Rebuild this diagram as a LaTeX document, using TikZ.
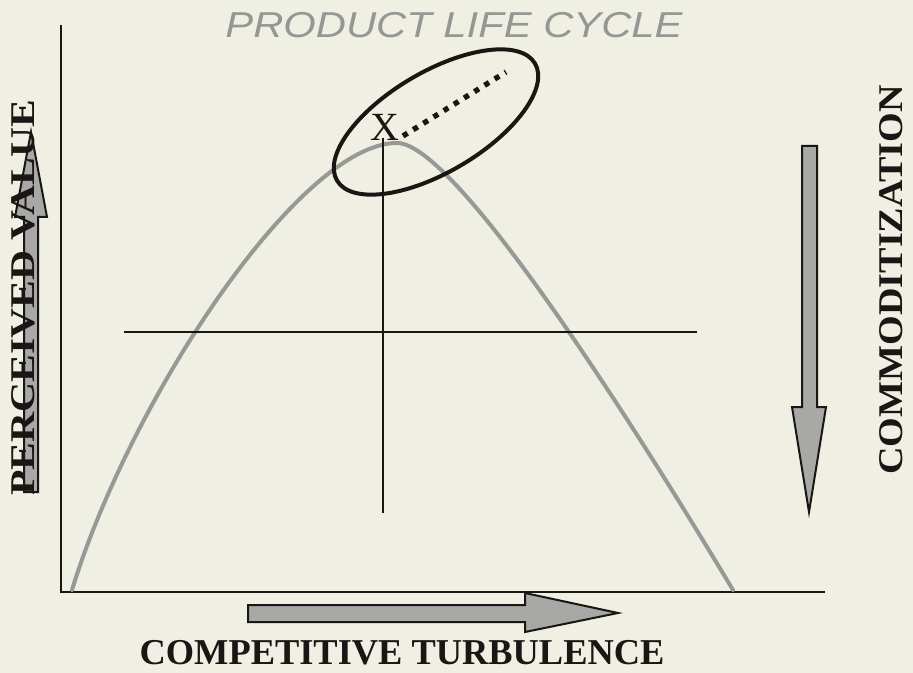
\documentclass[tikz,border=0pt]{standalone}
\usepackage{fontspec}
\setmainfont{Liberation Serif}
\newfontfamily\titlefont{Liberation Sans}
\usetikzlibrary{shapes.geometric}
\definecolor{paper}{RGB}{240,239,228}
\definecolor{curvegray}{RGB}{152,152,150}
\definecolor{arrowfill}{RGB}{168,168,166}
\definecolor{titlegray}{RGB}{150,150,148}
\definecolor{ink}{RGB}{25,22,20}
\tikzset{
  axisline/.style={draw=ink, line width=1.7pt},
  crossline/.style={draw=ink, line width=2.1pt},
  fatarrow/.style={draw=ink, line width=1.5pt, fill=arrowfill, line join=miter},
  axislabel/.style={font=\fontsize{26}{26}\selectfont\bfseries, text=ink, inner sep=0pt},
}
\begin{document}
\begin{tikzpicture}[x=0.75pt,y=-0.75pt]
\fill[paper] (0,0) rectangle (913,673);
\useasboundingbox (0,0) rectangle (913,673);

% coordinates
\coordinate (origin) at (61,592);
\coordinate (ytop) at (61,25);
\coordinate (xend) at (825,592);
\coordinate (hl) at (124,332);
\coordinate (hr) at (697,332);
\coordinate (vt) at (383,138);
\coordinate (vb) at (383,513);
\coordinate (cstart) at (72,590);
\coordinate (cpeak) at (397,143);
\coordinate (cend) at (733,590);

% axes
\draw[axisline] (ytop) -- (origin) -- (xend);

% bell curve
\draw[curvegray, line width=3pt, line cap=round]
  (cstart) .. controls (130,400) and (300,143) .. (cpeak)
  .. controls (462,143) and (673,490) .. (cend);

% cross lines
\draw[crossline] (hl) -- (hr);
\draw[crossline] (vt) -- (vb);

% X and ellipse
\node[font=\fontsize{30}{30}\selectfont, text=ink, inner sep=0pt] (xmark) at (385,127) {X};
\coordinate (dotstart) at (403,136);
\coordinate (dotend) at (506,72);
\draw[ink, line width=4pt, dash pattern=on 4pt off 5pt] (dotstart) -- (dotend);
\node[ellipse, draw=ink, line width=3pt, inner sep=0pt, minimum width=172.5pt, minimum height=75pt, rotate=30.6] (oval) at (436,122) {};

% title
\node[font=\titlefont\itshape\fontsize{27}{27}\selectfont, text=titlegray, xscale=1.16, inner sep=0pt] (title) at (454,25) {PRODUCT LIFE CYCLE};

% left arrow (up)
\draw[fatarrow] (24,492) -- (24,217) -- (15,217) -- (31,132) -- (47,217) -- (38,217) -- (38,492) -- cycle;
\node[axislabel, rotate=90, xscale=1.20] (pv) at (23,298) {PERCEIVED VALUE};

% right arrow (down)
\draw[fatarrow] (802,146) -- (817,146) -- (817,407) -- (826,407) -- (809,512) -- (792,407) -- (802,407) -- cycle;
\node[axislabel, rotate=90, xscale=1.10] (comm) at (891,280) {COMMODITIZATION};

% bottom arrow (right)
\draw[fatarrow] (248,605) -- (525,605) -- (525,593) -- (618,613) -- (525,632) -- (525,622) -- (248,622) -- cycle;
\node[axislabel, font=\fontsize{27.3}{27}\selectfont\bfseries] (ct) at (402,653) {COMPETITIVE TURBULENCE};
\end{tikzpicture}
\end{document}
